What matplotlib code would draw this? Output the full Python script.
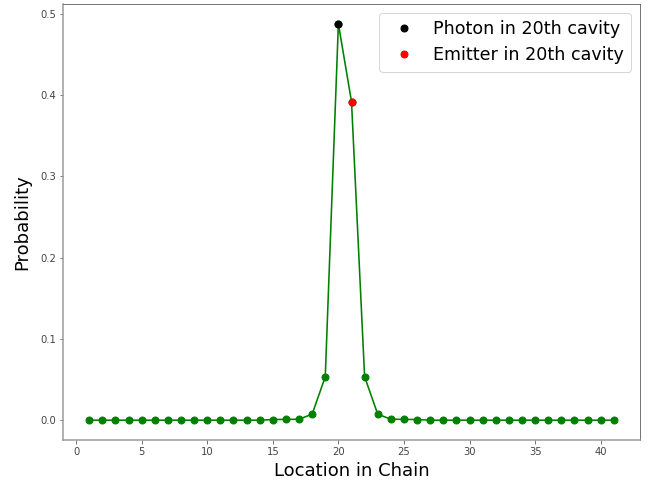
import matplotlib
matplotlib.use("Agg")
import matplotlib.pyplot as plt
import numpy as np

locations = list(range(1, 42))
probability = [0.0, 0.0, 0.0, 0.0, 0.0, 0.0, 0.0, 0.0, 0.0, 0.0,
               0.0, 0.0, 0.0, 0.0, 0.0008, 0.001, 0.0012, 0.0074, 0.0535, 0.4877,
               0.392, 0.0535, 0.0074, 0.0012, 0.001, 0.0008, 0.0, 0.0, 0.0, 0.0,
               0.0, 0.0, 0.0, 0.0, 0.0, 0.0, 0.0, 0.0, 0.0, 0.0, 0.0]
photon_loc = 20
emitter_loc = 21

fig = plt.figure(figsize=(657/72, 486/72), dpi=72)
ax = fig.add_axes([63/657, 1-440/486, (640-63)/657, (440-4)/486])

ax.plot(locations, probability, color='green', marker='o', markersize=7, linewidth=1.6)
ax.plot([photon_loc], [probability[photon_loc-1]], 'o', color='black', markersize=7,
        label='Photon in 20th cavity')
ax.plot([emitter_loc], [probability[emitter_loc-1]], 'o', color='red', markersize=7,
        label='Emitter in 20th cavity')

ax.set_xlabel('Location in Chain', fontsize=18, labelpad=5)
ax.set_ylabel('Probability', fontsize=18, labelpad=9)
ax.legend(loc='upper right', fontsize=17.5, handletextpad=0.7)

for s in ['left', 'bottom']:
    ax.spines[s].set_color('#999999')
    ax.spines[s].set_linewidth(1.5)
for s in ['top', 'right']:
    ax.spines[s].set_color('#555555')
ax.tick_params(colors='#444444', labelsize=10)
ax.tick_params(axis='both', color='#555555')

fig.savefig('out.png', dpi=72, facecolor='white')
